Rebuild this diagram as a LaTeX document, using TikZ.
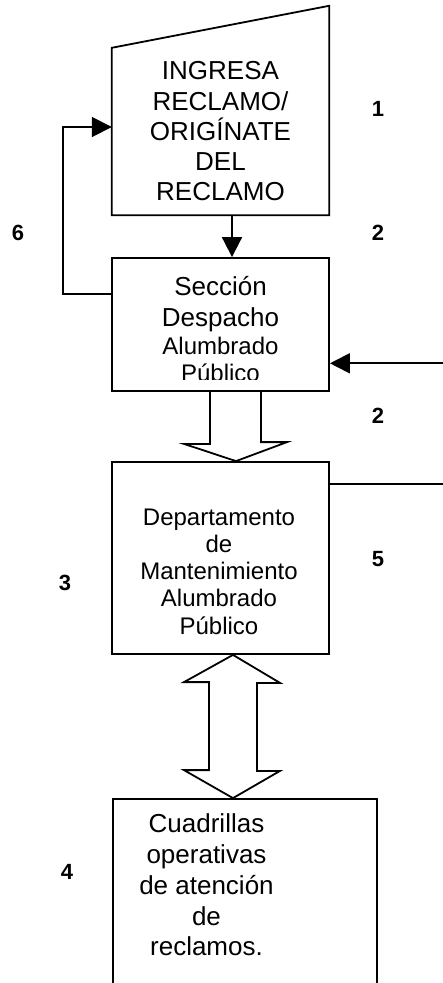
\documentclass[tikz,border=0pt]{standalone}
\usepackage{fontspec}
\setmainfont{Liberation Sans}
\usetikzlibrary{arrows.meta,calc}
\tikzset{
  ln/.style={line width=1.8pt, draw=black},
  box/.style={ln, rectangle, inner sep=0pt},
  arr/.style={ln, -{Triangle[length=20pt,width=20pt]}},
  hollow/.style={ln, line join=miter},
  txt/.style={inner sep=0pt, align=center},
  lab/.style={inner sep=0pt, font=\fontsize{22}{24}\selectfont\bfseries}
}
\begin{document}
\begin{tikzpicture}[x=1pt,y=-1pt]
\useasboundingbox (0,0) rectangle (443,983);
\clip (0,0) rectangle (443,983);
\fill[white] (0,0) rectangle (443,983);

% top box (manual input)
\node[txt, minimum width=217pt, minimum height=167pt, font=\fontsize{26}{30.25}\selectfont]
  (ingresa) at (220.5,131.5) {INGRESA\\RECLAMO/\\ORIGÍNATE\\DEL\\RECLAMO};
\draw[ln, line join=miter] (ingresa.south west) -- (ingresa.north west)
  -- ([yshift=42pt]ingresa.north east) -- (ingresa.south east) -- cycle;

% Seccion Despacho
\node[box, minimum width=217pt, minimum height=133pt] (sec) at (220.5,324.5) {};
\begin{scope}
\clip (112,250) rectangle (329,379);
\node[txt, font=\fontsize{26}{31}\selectfont] (sect) at (220.5,328.8)
  {Sección\\Despacho\\[-2.7pt]{\fontsize{24}{28}\selectfont Alumbrado}\\[-4pt]{\fontsize{24}{28}\selectfont Público}};
\end{scope}

% Departamento
\node[box, minimum width=217pt, minimum height=192pt] (dept) at (220.5,558) {};
\node[txt, font=\fontsize{24}{27.25}\selectfont] (deptt) at (219,571.5)
  {Departamento\\de\\Mantenimiento\\Alumbrado\\Público};

% Cuadrillas (open at bottom)
\node[box, minimum width=264pt, minimum height=201pt] (cuad) at (245,899.5) {};
\node[txt, font=\fontsize{26}{30.75}\selectfont] (cuadt) at (206.5,885)
  {Cuadrillas\\operativas\\de atención\\de\\reclamos.};

% connectors
\draw[arr] ([xshift=11.5pt]ingresa.south) -- ([xshift=11.5pt]sec.north);
\draw[arr] ([yshift=30.5pt]sec.west) -- ++(-48,0) |- ([yshift=4.5pt]ingresa.west);
\coordinate (rin) at (446,363.3);
\coordinate (rout) at (446,484);
\draw[arr] (rin) -- (rin -| sec.east);
\draw[ln] (rout -| dept.east) -- (rout);

% hollow arrow sec -> dept
\draw[hollow] ([xshift=-10.5pt]sec.south) -- ++(0,52) -- ++(-26,0)
  -- ([xshift=15.5pt]dept.north) -- ++(51,-19) -- ++(-26,0) -- ([xshift=40.5pt]sec.south);

% double hollow arrow dept <-> cuad
\draw[hollow] ([xshift=12.5pt]dept.south) -- ++(47,28) -- ++(-23,0) -- ++(0,88) -- ++(23,0)
  -- ([xshift=-12pt]cuad.north) -- ++(-49,-28) -- ++(25,0) -- ++(0,-88) -- ++(-25,0) -- cycle;

% labels
\node[lab] (l1) at (378,109) {1};
\node[lab] (l2a) at (378,233) {2};
\node[lab] (l6) at (18,233) {6};
\node[lab] (l2b) at (378,416) {2};
\node[lab] (l5) at (378,559) {5};
\node[lab] (l3) at (65,583) {3};
\node[lab] (l4) at (67,872) {4};
\end{tikzpicture}
\end{document}
